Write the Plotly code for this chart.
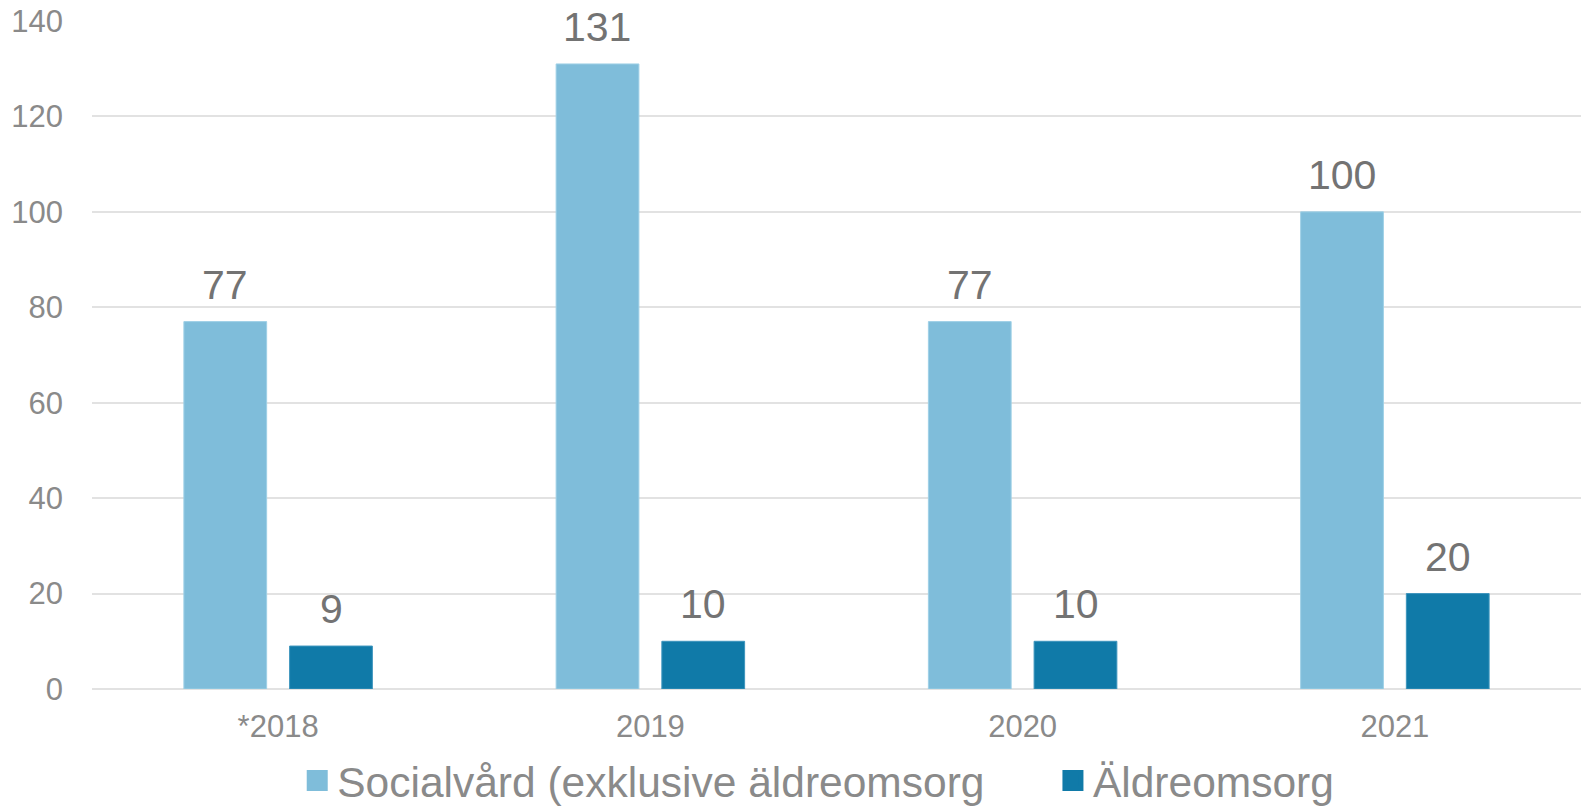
import plotly.graph_objects as go

categories = ["*2018", "2019", "2020", "2021"]
social = [77, 131, 77, 100]
elder = [9, 10, 10, 20]
series_names = ["Socialvård (exklusive äldreomsorg", "Äldreomsorg"]
yticks = [0, 20, 40, 60, 80, 100, 120, 140]

c_light = "#7FBDDA"
c_dark = "#107AA8"
label_col = "#737373"
tick_col = "#8a8a8a"
FONT = "Arial, Liberation Sans"

fig = go.Figure()
fig.add_trace(go.Bar(x=categories, y=social, name=series_names[0], showlegend=False,
                     marker=dict(color=c_light, line=dict(color="#9fd0e6", width=1))))
fig.add_trace(go.Bar(x=categories, y=elder, name=series_names[1], showlegend=False,
                     marker=dict(color=c_dark, line=dict(color="#3d95bd", width=1))))

# legend entries (square swatches)
for name, col, lg in [(series_names[0], c_light, "legend"), (series_names[1], c_dark, "legend2")]:
    fig.add_trace(go.Scatter(x=[categories[0]], y=[None], mode="markers", name=name, legend=lg,
                             marker=dict(symbol="square", size=16, color=col,
                                         line=dict(color=col, width=5))))

ann = []
for vals, shift in [(social, -53), (elder, 53)]:
    for i, v in enumerate(vals):
        ann.append(dict(x=i, y=v, xref="x", yref="y", text=str(v), showarrow=False,
                        yanchor="bottom", xshift=shift, yshift=12,
                        font=dict(family=FONT, size=41, color=label_col)))

legend_common = dict(orientation="h", yref="container", yanchor="middle", y=0.037,
                     xref="container", xanchor="left",
                     font=dict(family=FONT, size=42.5, color=tick_col),
                     itemwidth=30, bgcolor="rgba(0,0,0,0)")

fig.update_layout(
    width=1581, height=811,
    margin=dict(l=92, r=0, t=21, b=122),
    paper_bgcolor="white", plot_bgcolor="white",
    barmode="group", bargap=0.432, bargroupgap=0.217,
    annotations=ann,
    showlegend=True,
    legend=dict(x=0.188, **legend_common),
    legend2=dict(x=0.666, **legend_common),
    font=dict(family=FONT),
)
fig.update_xaxes(type="category", categoryorder="array", categoryarray=categories,
                 showgrid=False, showline=False, ticks="", ticklabelstandoff=16,
                 tickfont=dict(size=31, color=tick_col))
fig.update_yaxes(range=[0, 140], tickvals=yticks, showgrid=True, gridcolor="#e2e2e2", gridwidth=2,
                 zeroline=True, zerolinecolor="#e2e2e2", zerolinewidth=2,
                 ticks="", ticklabelstandoff=28, tickfont=dict(size=31, color=tick_col))

fig.write_html("out.html")
